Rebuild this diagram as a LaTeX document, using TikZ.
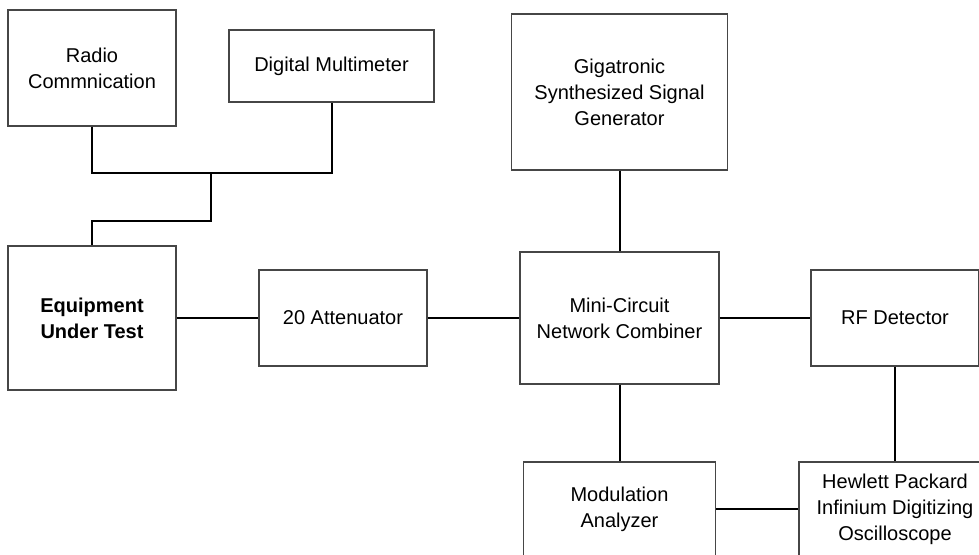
\documentclass[tikz,border=0pt]{standalone}
\usepackage{fontspec}
\setmainfont{Liberation Sans}
\usepackage{tikz}
\usepackage{xcolor}
\definecolor{boxEdgeColor}{RGB}{70,70,70}

\begin{document}
\begin{tikzpicture}[
        x=1pt, y=-1pt,
        device/.style={
                draw=boxEdgeColor,
                line width=1.3pt,
                inner sep=0pt,
                align=center,
                font=\fontsize{20}{26}\selectfont
            },
        link/.style={line width=2pt, black}
    ]

    % ---- Frame ----
    \useasboundingbox (0,0) rectangle (979,554);
    \clip (0,0) rectangle (979,554);

    % ---- Sizes ----
    \def\wS{168}   \def\hS{96}   % small boxes

    % ---- Left column ----
    \node[device, minimum width=168, minimum height=116] (radio) at (92,68) {Radio\\Commnication};
    \node[device, minimum width=205, minimum height=72] (dmm) at (331.5,66) {Digital Multimeter};
    \node[device, minimum width=168, minimum height=144, font=\fontsize{20}{26}\selectfont\bfseries] (eut) at (92,318) {Equipment\\Under Test};
    \node[device, minimum width=\wS, minimum height=\hS] (att) at (343,318) {20 Attenuator};

    % ---- Middle column ----
    \node[device, minimum width=216, minimum height=156] (gen) at (619.5,92) {Gigatronic\\Synthesized Signal\\Generator};
    \node[device, minimum width=199, minimum height=132] (comb) at (619.5,318) {Mini-Circuit\\Network Combiner};
    \node[device, minimum width=192, minimum height=94] (mod) at (619.5,509) {Modulation\\Analyzer};

    % ---- Right column (cut off by the frame) ----
    \node[device, minimum width=\wS, minimum height=\hS] (rfd) at (895,318) {RF Detector};
    \node[device, minimum width=192, minimum height=94] (osc) at (895,509) {Hewlett Packard\\Infinium Digitizing\\Oscilloscope};

    % ---- Meters to the device under test ----
    \coordinate (join) at (211,173);
    \coordinate (bend) at (211,221);
    \draw[link] (radio.south) |- (join) -| (dmm.south);
    \draw[link] (join) -- (bend) -| (eut.north);

    % ---- Signal chain ----
    \draw[link] (eut.east) -- (att.west);
    \draw[link] (att.east) -- (comb.west);
    \draw[link] (comb.east) -- (rfd.west);
    \draw[link] (gen.south) -- (comb.north);
    \draw[link] (comb.south) -- (mod.north);
    \draw[link] (rfd.south) -- (osc.north);
    \draw[link] (mod.east) -- (osc.west);
\end{tikzpicture}
\end{document}
